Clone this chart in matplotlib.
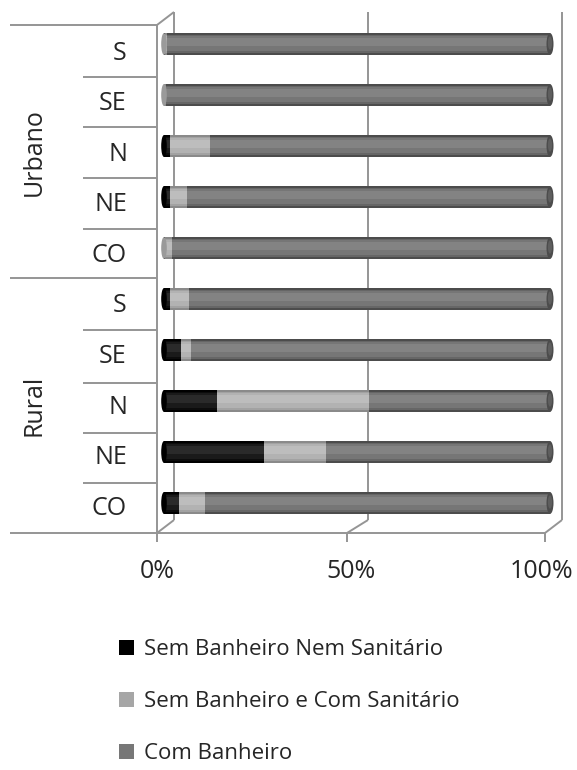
import matplotlib
matplotlib.use("Agg")
import matplotlib.pyplot as plt
from matplotlib.patches import Patch, Ellipse

plt.rcParams["font.family"] = ["Open Sans", "DejaVu Sans"]

# Shares of households (%) by sanitary facility, top row first
groups = ["Urbano", "Rural"]
regions = ["S", "SE", "N", "NE", "CO", "S", "SE", "N", "NE", "CO"]
sem_nem = [0.2, 0.1, 1.5, 1.5, 0.3, 1.5, 4.5, 13.8, 26.0, 4.0]
sem_com = [0.5, 0.4, 10.5, 4.5, 1.7, 5.0, 2.5, 39.2, 16.0, 6.5]
com_banheiro = [99.3, 99.5, 88.0, 94.0, 98.0, 93.5, 93.0, 47.0, 58.0, 89.5]
series_names = ["Sem Banheiro Nem Sanitário", "Sem Banheiro e Com Sanitário", "Com Banheiro"]
xtick_vals = [0, 50, 100]

W, H = 577, 770
fig = plt.figure(figsize=(W / 100, H / 100), dpi=100)
fig.patch.set_facecolor("white")

# pixel-space layer for the 3-D frame and category axis
ov = fig.add_axes([0, 0, 1, 1], zorder=0)
ov.set_xlim(0, W)
ov.set_ylim(H, 0)
ov.axis("off")

fc = "#959595"
lw = 1.4
def seg(x0, y0, x1, y1):
    ov.plot([x0, x1], [y0, y1], color=fc, lw=lw, solid_capstyle="butt")

# back wall gridlines with their floor diagonals and front ticks
back_x = [174, 368, 562]
front_x = [157, 347, 545]
for bx, fx in zip(back_x, front_x):
    seg(bx, 12, bx, 520)
    seg(bx, 520, fx, 533)
    seg(fx, 533, fx, 542)
seg(157, 25, 174, 12)
seg(157, 25, 157, 533)
seg(10, 533, 545, 533)
seg(10, 25, 157, 25)
seg(10, 278, 157, 278)
for yy in [77, 127, 178, 229, 330, 383, 433, 483]:
    seg(83, yy, 157, yy)

tc = "#262626"
label_y0, label_dy = 53, 50.6
for i, r in enumerate(regions):
    ov.text(127, label_y0 + i * label_dy, r, ha="right", va="center",
            fontsize=18, color=tc)
ov.text(34, 152, groups[0], rotation=90, ha="center", va="center", fontsize=18, color=tc)
ov.text(34, 405, groups[1], rotation=90, ha="center", va="center", fontsize=18, color=tc)
tick_label_x = [157, 351, 542]
for v, lx in zip(xtick_vals, tick_label_x):
    ov.text(lx, 572, f"{v}%", ha="center", va="center", fontsize=18, color=tc)

# bar axes
px0, px1 = 164, 550
ppu = (px1 - px0) / 100.0
left_px, right_px, top_px, bot_px = 157, 562, 12, 533
ax = fig.add_axes([left_px / W, 1 - bot_px / H, (right_px - left_px) / W,
                   (bot_px - top_px) / H], zorder=1)
ax.patch.set_alpha(0)
ax.set_xlim((left_px - px0) / ppu, 100 + (right_px - px1) / ppu)
yc0, dy = 44, 51.0
ax.set_ylim(9 + (bot_px - yc0 - 9 * dy) / dy, -(yc0 - top_px) / dy)
ax.axis("off")

ypos = list(range(len(regions)))
# cylinder shading: outer rim -> inner body -> highlight
shades = [
    ["#000000", "#0c0c0c", "#1a1a1a", "#2a2a2a"],
    ["#8a8a8a", "#a2a2a2", "#b2b2b2", "#bdbdbd"],
    ["#4c4c4c", "#666666", "#767676", "#838383"],
]
layer_h = [0.43, 0.37, 0.28, 0.16]
layer_off = [0.0, 0.0, -0.01, -0.04]
lefts = [0.0] * len(regions)
for vals, cols in zip([sem_nem, sem_com, com_banheiro], shades):
    for h, off, c in zip(layer_h, layer_off, cols):
        ax.barh([y + off for y in ypos], vals, left=lefts, height=h,
                color=c, linewidth=0)
    lefts = [a + b for a, b in zip(lefts, vals)]

# rounded ends of the cylinders
cap_w = 7 / ppu
for y, total in zip(ypos, lefts):
    ax.add_patch(Ellipse((total, y), cap_w, 0.43, facecolor="#4c4c4c",
                         edgecolor="none", zorder=3))
    ax.add_patch(Ellipse((total, y - 0.02), cap_w * 0.6, 0.26, facecolor="#5e5e5e",
                         edgecolor="none", zorder=3))
for y, a in zip(ypos, sem_nem):
    col = "#000000" if a >= 1 else "#9a9a9a"
    ax.add_patch(Ellipse((0, y), cap_w * 0.8, 0.43, facecolor=col,
                         edgecolor="none", zorder=3))

handles = [Patch(facecolor=c, edgecolor="none") for c in ["#000000", "#a6a6a6", "#777777"]]
leg = fig.legend(handles, series_names, loc="upper left",
                 bbox_to_anchor=(119 / W, 1 - 639 / H), frameon=False,
                 fontsize=16, handlelength=0.68, handleheight=0.68,
                 handletextpad=0.45, labelspacing=1.4, borderpad=0,
                 borderaxespad=0)
for t in leg.get_texts():
    t.set_color(tc)

fig.savefig("out.png", dpi=100, facecolor="white")
